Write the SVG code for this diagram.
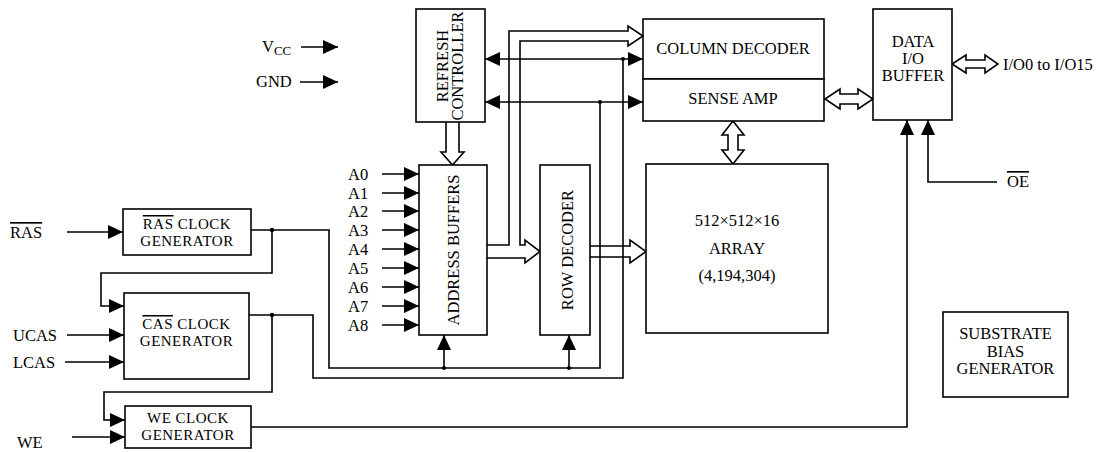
<svg xmlns="http://www.w3.org/2000/svg" width="1105" height="452" viewBox="0 0 1105 452">
<style>
.box{fill:#fff;stroke:#000;stroke-width:1.6}
.w{fill:none;stroke:#000;stroke-width:1.6}
.bus{fill:#fff;stroke:#000;stroke-width:1.6;stroke-linejoin:miter}
.dot{fill:#000}
text{font-family:"Liberation Serif","Times New Roman",serif;fill:#000;font-size:16.5px}
.c{text-anchor:middle}
.ol{text-decoration:overline}
.g{font-size:15px;letter-spacing:0.5px}
</style>
<defs>
<marker id="ah" viewBox="0 0 15 14" refX="15" refY="7" markerWidth="15" markerHeight="14" markerUnits="userSpaceOnUse" orient="auto-start-reverse">
<path d="M0,0 L15,7 L0,14 z" fill="#000"/>
</marker>
</defs>

<g id="buses">
<path class="bus" d="M446,122 V152 H441 L452.5,165 L464,152 H459 V122"/>
<path class="bus" d="M487,245 H509 V31 H628 V26 L643,36 L628,46 V41 H520 V245 H525 V240 L540,251.5 L525,263 V258 H487"/>
<path class="bus" d="M590,246 H630 V240 L646,251.5 L630,263 V257 H590"/>
<path class="bus" d="M728,135 V150 H722 L733,164 L744,150 H738 V135 H744 L733,121 L722,135 Z"/>
<path class="bus" d="M840,94 H858 V89 L873,99 L858,109 V104 H840 V109 L825,99 L840,89 Z"/>
<path class="bus" d="M966,60 H985 V55 L998,64 L985,73 V68 H966 V73 L952,64 L966,55 Z"/>
</g>

<g id="connectors">
<line class="w" x1="301" y1="47" x2="338" y2="47" marker-end="url(#ah)"/>
<line class="w" x1="300" y1="82" x2="338" y2="82" marker-end="url(#ah)"/>
<line class="w" x1="382" y1="174" x2="419" y2="174" marker-end="url(#ah)"/>
<line class="w" x1="382" y1="193" x2="419" y2="193" marker-end="url(#ah)"/>
<line class="w" x1="382" y1="211" x2="419" y2="211" marker-end="url(#ah)"/>
<line class="w" x1="382" y1="230" x2="419" y2="230" marker-end="url(#ah)"/>
<line class="w" x1="382" y1="249" x2="419" y2="249" marker-end="url(#ah)"/>
<line class="w" x1="382" y1="268" x2="419" y2="268" marker-end="url(#ah)"/>
<line class="w" x1="382" y1="287" x2="419" y2="287" marker-end="url(#ah)"/>
<line class="w" x1="382" y1="306" x2="419" y2="306" marker-end="url(#ah)"/>
<line class="w" x1="382" y1="325" x2="419" y2="325" marker-end="url(#ah)"/>
<line class="w" x1="67" y1="232" x2="123" y2="232" marker-end="url(#ah)"/>
<line class="w" x1="67" y1="335" x2="124" y2="335" marker-end="url(#ah)"/>
<line class="w" x1="65" y1="362" x2="124" y2="362" marker-end="url(#ah)"/>
<line class="w" x1="72" y1="437" x2="125" y2="437" marker-end="url(#ah)"/>
<polyline class="w" points="251,230 329,230 329,368 600,368 600,102"/>
<line class="w" x1="444" y1="368" x2="444" y2="335" marker-end="url(#ah)"/>
<line class="w" x1="569" y1="368" x2="569" y2="335" marker-end="url(#ah)"/>
<polyline class="w" points="272,230 272,273 101,273 101,306 124,306" marker-end="url(#ah)"/>
<polyline class="w" points="249,315 313,315 313,378 623,378 623,59"/>
<polyline class="w" points="272,315 272,392 104,392 104,420 125,420" marker-end="url(#ah)"/>
<polyline class="w" points="251,427 907,427 907,120" marker-end="url(#ah)"/>
<polyline class="w" points="997,182 928,182 928,120" marker-end="url(#ah)"/>
<line class="w" x1="485" y1="59" x2="643" y2="59" marker-start="url(#ah)" marker-end="url(#ah)"/>
<line class="w" x1="485" y1="102" x2="643" y2="102" marker-start="url(#ah)" marker-end="url(#ah)"/>
<circle class="dot" cx="272" cy="230" r="2.2"/>
<circle class="dot" cx="272" cy="315" r="2.2"/>
<circle class="dot" cx="444" cy="368" r="2"/>
<circle class="dot" cx="569" cy="368" r="2"/>
<circle class="dot" cx="600" cy="102" r="2"/>
<circle class="dot" cx="623" cy="59" r="2"/>
</g>

<g id="labels">
<text x="262" y="52">V<tspan font-size="13" dy="3">CC</tspan></text>
<text x="256" y="87">GND</text>
<text x="348" y="180">A0</text>
<text x="348" y="199">A1</text>
<text x="348" y="217">A2</text>
<text x="348" y="236">A3</text>
<text x="348" y="255">A4</text>
<text x="348" y="274">A5</text>
<text x="348" y="293">A6</text>
<text x="348" y="312">A7</text>
<text x="348" y="331">A8</text>
<text x="10" y="238"><tspan class="ol">RAS</tspan></text>
<text x="13" y="341">UCAS</text>
<text x="13" y="368">LCAS</text>
<text x="17" y="448">WE</text>
<text x="1003" y="70" font-size="17">I/O0 to I/O15</text>
<text x="1007" y="187"><tspan class="ol">OE</tspan></text>
</g>

<g id="refresh">
<rect class="box" x="416" y="9" width="69" height="113"/>
<text class="c" transform="translate(448,66) rotate(-90)">REFRESH</text>
<text class="c" transform="translate(463,66) rotate(-90)">CONTROLLER</text>
</g>
<g id="address-buffers">
<rect class="box" x="419" y="165" width="68" height="170"/>
<text class="c" transform="translate(459,250) rotate(-90)">ADDRESS BUFFERS</text>
</g>
<g id="row-decoder">
<rect class="box" x="540" y="165" width="50" height="170"/>
<text class="c" transform="translate(573,250) rotate(-90)">ROW DECODER</text>
</g>
<g id="column-decoder">
<rect class="box" x="643" y="19" width="181" height="60"/>
<text class="c" x="733" y="54" font-size="17">COLUMN DECODER</text>
</g>
<g id="sense-amp">
<rect class="box" x="643" y="79" width="181" height="42"/>
<text class="c" x="733" y="104" font-size="17">SENSE AMP</text>
</g>
<g id="array">
<rect class="box" x="646" y="164" width="182" height="169"/>
<text class="c" x="737" y="226" font-size="17">512×512×16</text>
<text class="c" x="737" y="254" font-size="17">ARRAY</text>
<text class="c" x="737" y="281" font-size="17">(4,194,304)</text>
</g>
<g id="data-io-buffer">
<rect class="box" x="873" y="9" width="79" height="111"/>
<text class="c" x="913" y="47" font-size="15">DATA</text>
<text class="c" x="913" y="64" font-size="15">I/O</text>
<text class="c" x="913" y="81" font-size="15">BUFFER</text>
</g>
<g id="substrate-bias-generator">
<rect class="box" x="943" y="312" width="125" height="85"/>
<text class="c" x="1005.5" y="339" font-size="17">SUBSTRATE</text>
<text class="c" x="1005.5" y="357" font-size="17">BIAS</text>
<text class="c" x="1005.5" y="374" font-size="17">GENERATOR</text>
</g>
<g id="ras-clock-generator">
<rect class="box" x="123" y="209" width="128" height="46"/>
<text class="c g" x="187" y="229"><tspan class="ol">RAS</tspan> CLOCK</text>
<text class="c g" x="187" y="246">GENERATOR</text>
</g>
<g id="cas-clock-generator">
<rect class="box" x="124" y="293" width="125" height="86"/>
<text class="c g" x="186.5" y="329"><tspan class="ol">CAS</tspan> CLOCK</text>
<text class="c g" x="186.5" y="346">GENERATOR</text>
</g>
<g id="we-clock-generator">
<rect class="box" x="125" y="406" width="126" height="42"/>
<text class="c g" x="188" y="423">WE CLOCK</text>
<text class="c g" x="188" y="440">GENERATOR</text>
</g>
</svg>
